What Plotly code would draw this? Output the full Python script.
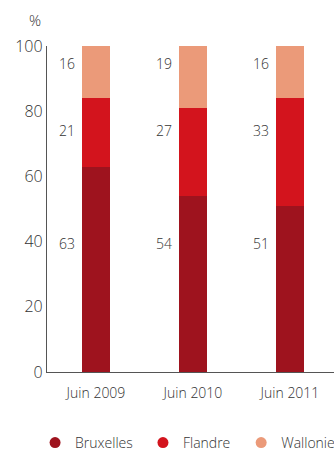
import plotly.graph_objects as go

categories = ["Juin 2009", "Juin 2010", "Juin 2011"]
bruxelles = [63, 54, 51]
flandre = [21, 27, 33]
wallonie = [16, 19, 16]
series_names = ["Bruxelles", "Flandre", "Wallonie"]
y_ticks = [0, 20, 40, 60, 80, 100]

colors = ["#9E131E", "#D3141D", "#EB9A79"]
label_y = [39.5, 74, 94.5]  # fixed label heights per series (style)
legend_x = [0.105, 0.428, 0.722]  # legend entry positions (style)
FONT = "Open Sans"
TXT = "#333333"
W = 300

fig = go.Figure()
series = [bruxelles, flandre, wallonie]
for name, vals, col in zip(series_names, series, colors):
    fig.add_trace(go.Bar(x=categories, y=vals, name=name, marker_color=col,
                         marker_line_width=0, width=0.29, showlegend=False))
legend_ids = ["legend", "legend2", "legend3"]
for name, col, lid in zip(series_names, colors, legend_ids):
    fig.add_trace(go.Scatter(x=[None], y=[None], mode="markers", name=name, legend=lid,
                             marker=dict(symbol="circle", size=11, color=col)))

for vals, ly in zip(series, label_y):
    for c, v in zip(categories, vals):
        fig.add_annotation(x=c, y=ly, text=str(v), showarrow=False,
                           xanchor="right", xshift=-19,
                           font=dict(family=FONT, size=14, color=TXT, weight=W))

fig.add_annotation(x=0, xref="paper", xanchor="right", xshift=-4,
                   y=1, yref="paper", yanchor="bottom", yshift=14,
                   text="%", showarrow=False,
                   font=dict(family=FONT, size=15, color=TXT, weight=W))

legends = {}
for lid, lx in zip(legend_ids, legend_x):
    legends[lid] = dict(orientation="h", xref="container", yref="container",
                        x=lx, xanchor="left", y=0.02, yanchor="middle",
                        font=dict(family=FONT, size=14, color=TXT, weight=W),
                        itemwidth=30, bgcolor="rgba(0,0,0,0)")

fig.update_layout(
    barmode="stack",
    width=334, height=452,
    margin=dict(l=47, r=0, t=46, b=80),
    plot_bgcolor="white", paper_bgcolor="white",
    font=dict(family=FONT, color=TXT, weight=W),
    xaxis=dict(range=[-0.505, 2.454], showline=True, linecolor="#555555", linewidth=1.3,
               ticks="", tickfont=dict(family=FONT, size=14, color=TXT, weight=W),
               ticklabelstandoff=8, showgrid=False, zeroline=False),
    yaxis=dict(range=[0, 100], tickvals=y_ticks, showline=True, linecolor="#555555",
               linewidth=1.3, ticks="", showgrid=False, zeroline=False,
               tickfont=dict(family=FONT, size=16, color=TXT, weight=W)),
    **legends,
)

fig.write_html("out.html")
